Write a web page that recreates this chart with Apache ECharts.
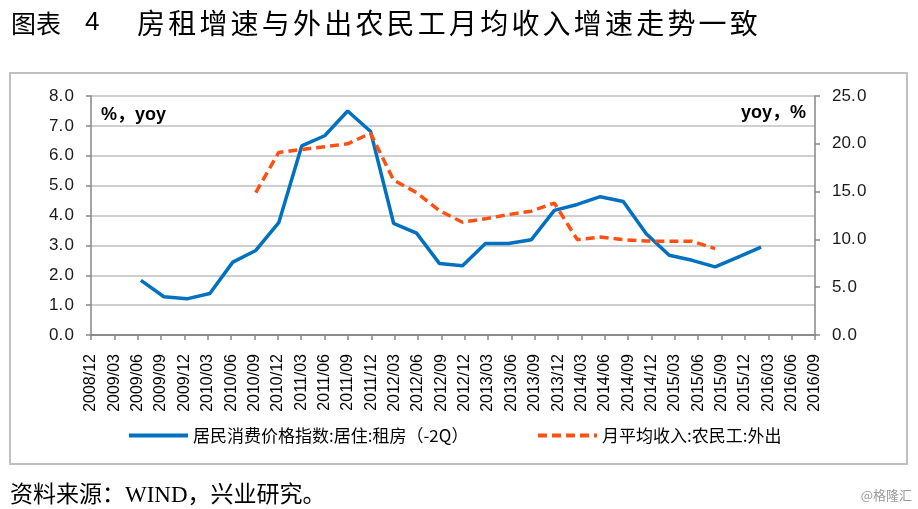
<!DOCTYPE html>
<html><head><meta charset="utf-8">
<script src="https://cdn.jsdelivr.net/npm/echarts@6/dist/echarts.min.js"></script>
<style>html,body{margin:0;padding:0;background:#fff}#c{width:918px;height:509px}</style>
</head><body><div id="c"></div>
<script>
const categories = ['2008/12','2009/03','2009/06','2009/09','2009/12','2010/03','2010/06','2010/09','2010/12',
  '2011/03','2011/06','2011/09','2011/12','2012/03','2012/06','2012/09','2012/12','2013/03','2013/06','2013/09',
  '2013/12','2014/03','2014/06','2014/09','2014/12','2015/03','2015/06','2015/09','2015/12','2016/03','2016/06','2016/09'];
const rentName = '居民消费价格指数:居住:租房（-2Q）';
const incomeName = '月平均收入:农民工:外出';
const rentCPI = [null,null,1.83,1.28,1.21,1.39,2.44,2.83,3.76,6.33,6.67,7.5,6.81,3.74,3.41,2.39,2.32,3.06,3.06,3.19,
  4.17,4.37,4.63,4.47,3.39,2.67,2.5,2.28,2.61,2.94,null,null];
const migrantIncome = [null,null,null,null,null,null,null,14.9,19.1,19.4,19.7,20.0,21.1,16.2,14.9,13.0,11.8,12.15,12.6,12.95,
  13.8,9.97,10.24,9.97,9.83,9.8,9.8,9.03,null,null,null,null];
const leftAxis = {min:0, max:8, interval:1};
const rightAxis = {min:0, max:25, interval:5};
const titleLead = ['图','表'];
const titleNum = '4';
const titleMain = '房租增速与外出农民工月均收入增速走势一致';
const leftUnit = '%，yoy';
const rightUnit = 'yoy，%';
const source = '资料来源：WIND，兴业研究。';
const watermark = '@格隆汇';

const CJK = '"Noto Sans CJK SC"';
const AX = '#868686', GRIDC = '#bfbfbf';
const chart = echarts.init(document.getElementById('c'), null, {renderer:'canvas'});
const fmt = v => v.toFixed(1).replace('.', '.\u200A');

const graphic = [
  {type:'rect', shape:{x:10,y:73,width:897,height:391}, style:{fill:'none',stroke:'#c0c0c0',lineWidth:2}, z:-1},
  {type:'text', style:{text:leftUnit, x:101, y:115, verticalAlign:'middle', font:'bold 18px "Liberation Sans",'+CJK, fill:'#000'}},
  {type:'text', style:{text:rightUnit, x:806, y:113, align:'right', verticalAlign:'middle', font:'bold 18px "Liberation Sans",'+CJK, fill:'#000'}},
  {type:'text', style:{text:source, x:10, y:496, verticalAlign:'middle', font:'23px "Liberation Serif",'+CJK, fill:'#000'}},
  {type:'text', style:{text:watermark, x:912, y:495, align:'right', verticalAlign:'middle', font:'13px '+CJK, fill:'#9a9a9a'}}
];
titleLead.forEach((ch,k)=>graphic.push({type:'text', style:{text:ch, x:11+k*25, y:23, verticalAlign:'middle', font:'25px '+CJK, fill:'#000'}}));
graphic.push({type:'text', style:{text:titleNum, x:85, y:23, verticalAlign:'middle', font:'26px "Liberation Sans"', fill:'#000'}});
Array.from(titleMain).forEach((ch,k)=>graphic.push({type:'text', style:{text:ch, x:137+k*31.2, y:23, verticalAlign:'middle', font:'28px '+CJK, fill:'#000'}}));

const legendBase = {orient:'horizontal', top:427, padding:0, itemWidth:59, itemHeight:14, itemGap:0,
  itemStyle:{opacity:0}, lineStyle:{width:4}, textStyle:{fontSize:17, fontFamily:CJK, color:'#000'}};

const option = {
  animation:false,
  backgroundColor:'#fff',
  graphic,
  legend:[
    Object.assign({}, legendBase, {data:[rentName], left:127}),
    Object.assign({}, legendBase, {data:[incomeName], left:536})
  ],
  grid:[
    {left:91, right:103, top:96, bottom:174},
    {left:95, right:111, top:96, bottom:174}
  ],
  xAxis:[
    {type:'category', gridIndex:0, data:categories, boundaryGap:false,
     axisLine:{lineStyle:{color:AX,width:1.5}},
     axisTick:{show:true, length:5, interval:0, lineStyle:{color:AX,width:1.5}},
     axisLabel:{interval:0, rotate:90, margin:19, fontSize:16, fontFamily:'"Liberation Sans"', color:'#000'},
     splitLine:{show:false}},
    {type:'category', gridIndex:1, data:categories, boundaryGap:false, show:false},
    {type:'category', gridIndex:0, position:'top', data:categories, boundaryGap:false,
     axisLine:{lineStyle:{color:AX,width:1.5}}, axisTick:{show:false}, axisLabel:{show:false}, splitLine:{show:false}}
  ],
  yAxis:[
    {type:'value', gridIndex:0, position:'left', min:leftAxis.min, max:leftAxis.max, interval:leftAxis.interval,
     axisLine:{show:true, lineStyle:{color:AX,width:1.5}},
     axisTick:{show:true, length:5, lineStyle:{color:AX,width:1.5}},
     axisLabel:{margin:17, fontSize:17, fontFamily:'"Liberation Sans"', color:'#1a1a1a', formatter:fmt},
     splitLine:{show:true, lineStyle:{color:GRIDC, width:1.5}}},
    {type:'value', gridIndex:0, position:'right', min:rightAxis.min, max:rightAxis.max, interval:rightAxis.interval,
     axisLine:{show:true, lineStyle:{color:AX,width:1.5}},
     axisTick:{show:true, length:5, lineStyle:{color:AX,width:1.5}},
     axisLabel:{margin:17, fontSize:17, fontFamily:'"Liberation Sans"', color:'#1a1a1a', formatter:fmt},
     splitLine:{show:false}},
    {type:'value', gridIndex:1, min:leftAxis.min, max:leftAxis.max, show:false, splitLine:{show:false}},
    {type:'value', gridIndex:1, min:rightAxis.min, max:rightAxis.max, show:false, splitLine:{show:false}}
  ],
  series:[
    {name:rentName, type:'line', xAxisIndex:1, yAxisIndex:2, data:rentCPI, symbol:'none', connectNulls:false,
     lineStyle:{color:'#0070C0', width:3.5}, itemStyle:{color:'#0070C0'}, z:3},
    {name:incomeName, type:'line', xAxisIndex:1, yAxisIndex:3, data:migrantIncome, symbol:'none', connectNulls:false,
     lineStyle:{color:'#FF5014', width:3.5, type:[9,5]}, itemStyle:{color:'#FF5014'}, z:4}
  ]
};
chart.setOption(option);
</script></body></html>
